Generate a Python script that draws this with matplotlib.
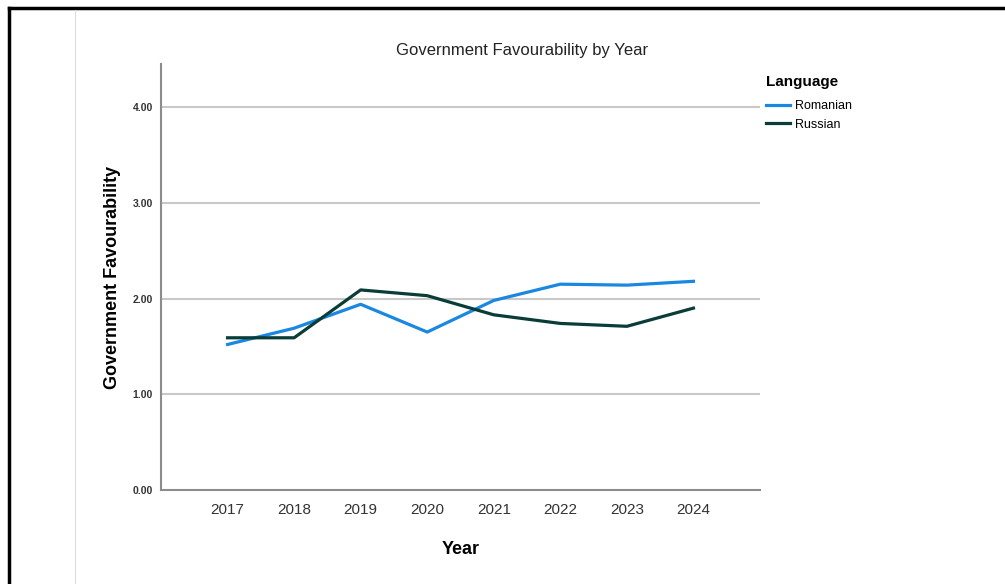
import matplotlib
matplotlib.use("Agg")
import matplotlib.pyplot as plt
from matplotlib.lines import Line2D

plt.rcParams['font.family'] = ['Liberation Sans', 'DejaVu Sans']

years = ['2017', '2018', '2019', '2020', '2021', '2022', '2023', '2024']
romanian = [1.52, 1.69, 1.94, 1.65, 1.98, 2.15, 2.14, 2.18]
russian = [1.59, 1.59, 2.09, 2.03, 1.83, 1.74, 1.71, 1.90]
yticks = [0, 1, 2, 3, 4]

W, H = 1005, 584
fig = plt.figure(figsize=(W / 100, H / 100), dpi=100)

# cadre de la capture d'ecran
fig.add_artist(Line2D([9 / W, 9 / W], [0, 1 - 8 / H], color='black', lw=2.5))
fig.add_artist(Line2D([9 / W, 1], [1 - 8 / H, 1 - 8 / H], color='black', lw=2.5))
fig.add_artist(Line2D([75 / W, 75 / W], [0, 1 - 10 / H], color='#dddddd', lw=0.8))

ax = fig.add_axes([161 / W, (H - 490) / H, (760 - 161) / W, (490 - 64) / H])
x = list(range(len(years)))

for y in yticks[1:]:
    ax.axhline(y, color='#c8c8c8', lw=1.5, zorder=1)

ax.plot(x, romanian, color='#1a88e0', lw=2.3, label='Romanian', zorder=3)
ax.plot(x, russian, color='#0a3c38', lw=2.3, label='Russian', zorder=3)

ax.set_xlim(-1, 8)
ax.set_ylim(0, 4.45)
ax.set_xticks(x)
ax.set_xticklabels(years, fontsize=11, color='#333333')
ax.set_yticks(yticks)
ax.set_yticklabels(['%.2f' % v for v in yticks], fontsize=7.5, color='#333333', fontweight='bold')
ax.tick_params(length=0, pad=6)
ax.tick_params(axis='x', pad=9)
for s in ['top', 'right']:
    ax.spines[s].set_visible(False)
for s in ['left', 'bottom']:
    ax.spines[s].set_color('#8c8c8c')
    ax.spines[s].set_linewidth(1.5)

ax.set_xlabel('Year', fontsize=13, fontweight='bold', labelpad=18)
ax.set_ylabel('Government Favourability', fontsize=13, fontweight='bold', labelpad=8)

fig.text(522 / W, 1 - 50 / H, 'Government Favourability by Year', fontsize=12,
         color='#222222', ha='center', va='center')

leg = ax.legend(title='Language', loc='upper left', bbox_to_anchor=(755 / W, 1 - 64 / H),
                bbox_transform=fig.transFigure, frameon=False, fontsize=9,
                handlelength=1.9, handletextpad=0.4, labelspacing=0.5)
leg.get_title().set_fontweight('bold')
leg.get_title().set_fontsize(11)
leg._legend_box.align = 'left'
leg._legend_box.sep = 8

fig.savefig('out.png', dpi=100)
